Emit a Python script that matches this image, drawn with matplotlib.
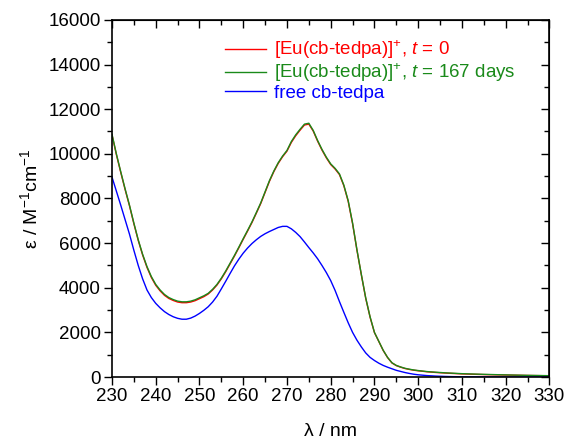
import matplotlib
matplotlib.use("Agg")
import matplotlib.pyplot as plt
from matplotlib.ticker import MultipleLocator

plt.rcParams['font.family'] = ['Liberation Sans', 'DejaVu Sans']
plt.rcParams['mathtext.fontset'] = 'custom'
plt.rcParams['mathtext.rm'] = 'Liberation Sans'
plt.rcParams['mathtext.it'] = 'Liberation Sans:italic'

wavelength = list(range(230, 301)) + [302, 304, 306, 308, 310, 315, 320, 325, 330]

eps_eu_t167 = [10880, 10000, 9200, 8430, 7700, 6900, 6150, 5500, 4950, 4500,
               4150, 3900, 3700, 3560, 3470, 3400, 3370, 3370, 3400, 3460,
               3550, 3640, 3750, 3930, 4150, 4430, 4750, 5100, 5450, 5820,
               6200, 6570, 6950, 7370, 7800, 8300, 8800, 9230, 9600, 9900,
               10150, 10550, 10850, 11100, 11330, 11370, 11050, 10600, 10200, 9850,
               9550, 9350, 9100, 8600, 7900, 6900, 5700, 4600, 3550, 2700,
               2000, 1600, 1200, 880, 640, 520, 450, 390, 350, 315,
               290, 245, 215, 190, 170, 150, 120, 95, 75, 60]

eps_eu_t0 = [10850, 9970, 9170, 8400, 7670, 6870, 6120, 5470, 4910, 4460,
             4110, 3860, 3660, 3520, 3430, 3360, 3330, 3330, 3360, 3420,
             3510, 3600, 3720, 3900, 4120, 4400, 4720, 5070, 5420, 5790,
             6170, 6540, 6920, 7340, 7770, 8270, 8770, 9200, 9570, 9870,
             10120, 10510, 10810, 11060, 11290, 11330, 11020, 10570, 10170, 9820,
             9520, 9320, 9070, 8570, 7870, 6870, 5680, 4580, 3530, 2680,
             1990, 1590, 1190, 870, 630, 510, 440, 380, 340, 305,
             280, 235, 205, 180, 160, 140, 110, 90, 70, 55]

eps_free = [8960, 8330, 7700, 7050, 6400, 5680, 5000, 4400, 3900, 3560,
            3300, 3100, 2930, 2800, 2700, 2630, 2590, 2590, 2640, 2730,
            2850, 2990, 3150, 3360, 3620, 3950, 4290, 4640, 4980, 5280,
            5550, 5780, 5980, 6150, 6300, 6420, 6520, 6610, 6700, 6750,
            6750, 6640, 6480, 6290, 6050, 5800, 5560, 5300, 5000, 4680,
            4320, 3880, 3380, 2900, 2430, 2000, 1650, 1350, 1080, 880,
            740, 620, 520, 440, 370, 300, 250, 200, 160, 125,
            100, 65, 42, 27, 17, 12, 6, 3, 2, 0]

labels = [r'[Eu(cb-tedpa)]$^{+}$, $t$ = 0',
          r'[Eu(cb-tedpa)]$^{+}$, $t$ = 167 days',
          'free cb-tedpa']
colors = ['#ff0000', '#1a8a1a', '#0000ff']

fig = plt.figure(figsize=(5.67, 4.42), dpi=100)
ax = fig.add_axes([0.1975, 0.147, 0.7715, 0.808])

ax.plot(wavelength, eps_eu_t0, color=colors[0], lw=1.0, label=labels[0])
ax.plot(wavelength, eps_eu_t167, color=colors[1], lw=1.0, label=labels[1])
ax.plot(wavelength, eps_free, color=colors[2], lw=1.0, label=labels[2])

ax.set_xlim(230, 330)
ax.set_ylim(0, 16000)
ax.xaxis.set_major_locator(MultipleLocator(10))
ax.xaxis.set_minor_locator(MultipleLocator(5))
ax.yaxis.set_major_locator(MultipleLocator(2000))
ax.yaxis.set_minor_locator(MultipleLocator(1000))

ax.tick_params(which='both', direction='out', top=False, right=False, labelsize=13.5, width=1.0)
ax.tick_params(which='major', length=6, pad=2)
ax.tick_params(which='minor', length=3.5)

# mirrored inward ticks on top and right
axt = ax.secondary_xaxis('top')
axt.xaxis.set_major_locator(MultipleLocator(10))
axt.xaxis.set_minor_locator(MultipleLocator(5))
axt.tick_params(which='both', direction='in', labeltop=False, width=1.0)
axt.tick_params(which='major', length=6)
axt.tick_params(which='minor', length=3.5)
axr = ax.secondary_yaxis('right')
axr.yaxis.set_major_locator(MultipleLocator(2000))
axr.yaxis.set_minor_locator(MultipleLocator(1000))
axr.tick_params(which='both', direction='in', labelright=False, width=1.0)
axr.tick_params(which='major', length=6)
axr.tick_params(which='minor', length=3.5)

for s in ax.spines.values():
    s.set_linewidth(1.2)

ax.set_xlabel('λ / nm', fontsize=14, labelpad=13)
ax.set_ylabel(r'ε / M$^{\mathregular{-1}}$cm$^{\mathregular{-1}}$', fontsize=14, labelpad=5)

leg = ax.legend(loc='upper left', bbox_to_anchor=(0.22, 0.995), frameon=False,
                fontsize=13.5, labelcolor='linecolor', handlelength=2.2,
                handletextpad=0.4, labelspacing=0.02)

fig.savefig('out.png', dpi=100)
